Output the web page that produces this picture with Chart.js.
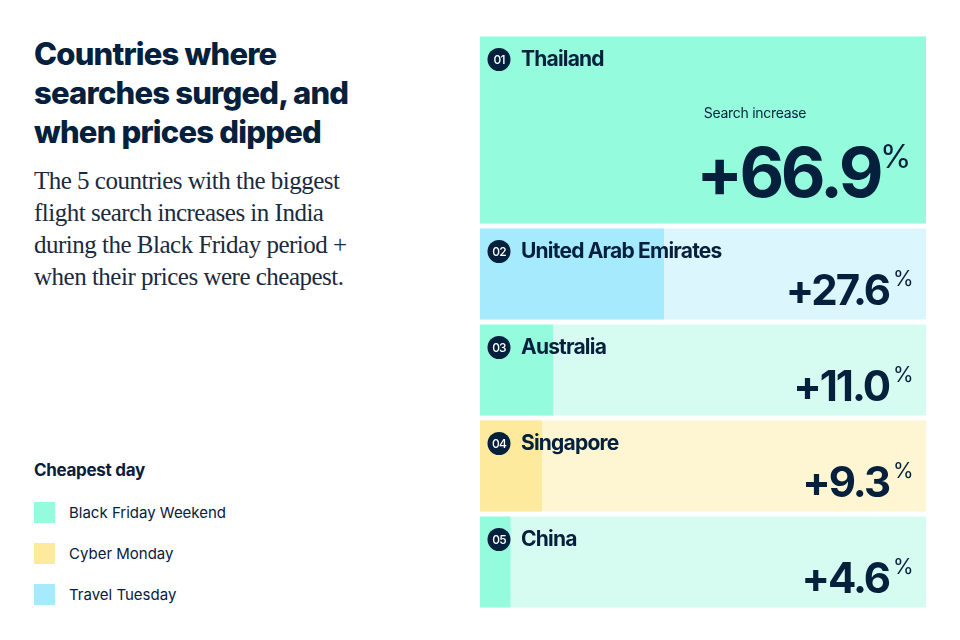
<!DOCTYPE html>
<html><head><meta charset="utf-8">
<script src="https://cdn.jsdelivr.net/npm/chart.js@4/dist/chart.umd.min.js"></script>
<style>
body{margin:0;width:960px;height:640px;background:#fff;position:relative;font-family:Inter,sans-serif;color:#05203c;overflow:hidden}
#title{position:absolute;left:34px;top:34px;font-size:31px;font-weight:800;line-height:39px;letter-spacing:-0.8px;white-space:nowrap}
#sub{position:absolute;left:34px;top:165px;font-family:"Liberation Serif",serif;font-size:25px;line-height:32px;white-space:nowrap;letter-spacing:-0.5px;color:#1a2a3f}
#leg{position:absolute;left:34px;top:460px}
#leg h4{margin:0 0 22px 0;font-size:17px;font-weight:700;letter-spacing:-0.3px}
.it{display:flex;align-items:center;height:21px;margin-bottom:20px;font-size:15px}
.sw{width:21px;height:21px;margin-right:14px}
#wrap{position:absolute;left:480px;top:34px;width:446px;height:576px}
</style></head><body>
<div id="title">Countries where<br>searches surged, and<br>when prices dipped</div>
<div id="sub">The 5 countries with the biggest<br>flight search increases in India<br>during the Black Friday period +<br>when their prices were cheapest.</div>
<div id="leg"><h4>Cheapest day</h4><div id="items"></div></div>
<div id="wrap"><canvas id="c"></canvas></div>
<script>
const countries=['Thailand','United Arab Emirates','Australia','Singapore','China'];
const increases=[66.9,27.6,11.0,9.3,4.6];
const cheapestDay=['Black Friday Weekend','Travel Tuesday','Black Friday Weekend','Cyber Monday','Black Friday Weekend'];
const legendDays=['Black Friday Weekend','Cyber Monday','Travel Tuesday'];
const strong={'Black Friday Weekend':'#94fbdd','Cyber Monday':'#feea9c','Travel Tuesday':'#a5eafd'};
const light={'Black Friday Weekend':'#d6fcf1','Cyber Monday':'#fef6d2','Travel Tuesday':'#dcf6fe'};

const items=document.getElementById('items');
legendDays.forEach(d=>{items.innerHTML+=`<div class="it"><div class="sw" style="background:${strong[d]}"></div>${d}</div>`;});

// Thailand spans two slots (taller row)
const slots=[0,0,1,2,3,4];
const labels=slots.map((s,i)=>countries[s]+'#'+i);
const maxV=Math.max(...increases);
const bw=ctx=>{const i=ctx.dataIndex;return {top:i===1?0:2.5,bottom:i===0?0:2.5,left:0,right:0};};
new Chart(document.getElementById('c'),{
type:'bar',
data:{labels,datasets:[
 {data:slots.map(s=>increases[s]),backgroundColor:slots.map(s=>strong[cheapestDay[s]]),borderColor:'#fff',borderWidth:bw,borderSkipped:false,inflateAmount:0,grouped:false,order:0,barPercentage:1,categoryPercentage:1},
 {data:slots.map(()=>maxV),backgroundColor:slots.map(s=>light[cheapestDay[s]]),borderColor:'#fff',borderWidth:bw,borderSkipped:false,inflateAmount:0,grouped:false,order:1,barPercentage:1,categoryPercentage:1}
]},
options:{indexAxis:'y',responsive:true,maintainAspectRatio:false,animation:false,
 layout:{padding:0},
 plugins:{legend:{display:false},tooltip:{enabled:false}},
 scales:{x:{display:false,min:0,max:maxV},y:{display:false}}},
plugins:[{id:'txt',afterDatasetsDraw(chart){
 const c=chart.ctx,ys=chart.scales.y,xs=chart.scales.x;
 const half=(ys.getPixelForValue(1)-ys.getPixelForValue(0))/2;
 const left=xs.getPixelForValue(0),right=xs.getPixelForValue(maxV);
 countries.forEach((n,k)=>{
  const first=slots.indexOf(k),last=slots.lastIndexOf(k);
  const top=ys.getPixelForValue(first)-half+2.5,bot=ys.getPixelForValue(last)+half-2.5;
  const cy=top+23;
  c.save();
  c.fillStyle='#05203c';c.beginPath();c.arc(left+19,cy,11.5,0,Math.PI*2);c.fill();
  c.fillStyle='#fff';c.font='500 12px Inter';c.textAlign='center';c.textBaseline='middle';c.letterSpacing='-0.8px';
  c.fillText('0'+(k+1),left+19,cy+0.5);
  c.fillStyle='#05203c';c.textAlign='left';c.font='700 21px Inter';c.letterSpacing='-0.8px';
  c.fillText(n,left+41,cy);
  const big=k===0;
  c.font=`700 ${big?69:42}px Inter`;c.letterSpacing=big?'-3.5px':'-2px';c.textAlign='right';c.textBaseline='alphabetic';
  const vx=right-(big?46:37);
  c.fillText('+'+increases[k].toFixed(1),vx,bot-(big?27:15));
  c.font=`400 ${big?32:21}px Inter`;c.letterSpacing='0px';c.textAlign='left';
  c.fillText('%',vx+(big?0:4),bot-(big?56:34));
  if(big){c.font='400 14px Inter';c.textAlign='center';c.letterSpacing='-0.3px';c.fillText('Search increase',(left+right)/2+52,top+81);}
  c.restore();
 });
}}]
});
</script></body></html>
